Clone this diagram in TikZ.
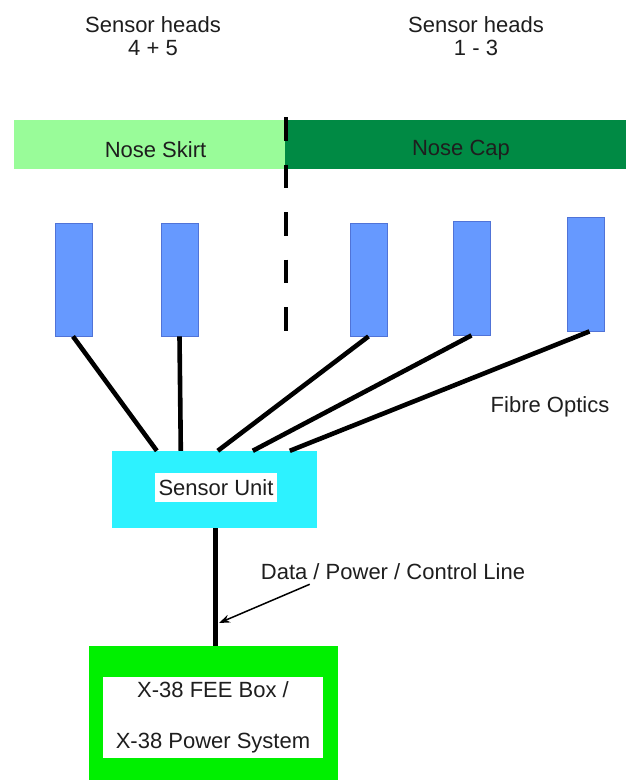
\documentclass[tikz,border=0pt]{standalone}
\usepackage{fontspec}
\setmainfont{Liberation Sans}
\usetikzlibrary{arrows.meta,calc}
\definecolor{skirtgreen}{RGB}{153,252,153}
\definecolor{capgreen}{RGB}{0,138,68}
\definecolor{sensorblue}{RGB}{102,153,255}
\definecolor{sensoredge}{RGB}{80,115,215}
\definecolor{unitcyan}{RGB}{45,242,255}
\definecolor{feegreen}{RGB}{0,240,0}
\definecolor{txt}{RGB}{30,30,30}
\begin{document}
\begin{tikzpicture}[x=1pt,y=-1pt,
  lbl/.style={font=\fontsize{22}{23}\selectfont, text=txt, inner sep=0pt, align=center},
  barbox/.style={draw=none, minimum height=49pt, inner sep=0pt},
  sensorbox/.style={fill=sensorblue, draw=sensoredge, line width=0.8pt, minimum width=37pt, minimum height=113pt, inner sep=0pt},
  fibre/.style={line width=4.6pt, black},
  whitebox/.style={fill=white, draw=none, inner sep=0pt, font=\fontsize{22}{23}\selectfont, text=txt, align=center}
]
\useasboundingbox (0,0) rectangle (626,780);
\fill[white] (0,0) rectangle (626,780);

% top labels
\node[lbl] (h45) at (153,36.5) {Sensor heads\\4 + 5};
\node[lbl] (h13) at (476,36.5) {Sensor heads\\1 - 3};

% bars
\node[barbox, fill=skirtgreen, minimum width=271pt,
  label={[lbl,xshift=6pt,yshift=-5.5pt]center:Nose Skirt}] (skirt) at (149.5,144.5) {};
\node[barbox, fill=capgreen, minimum width=342pt,
  label={[lbl,xshift=5pt,yshift=-5.5pt]center:Nose Cap}] (cap) at (456,144.5) {};

% dashed divider
\coordinate (dtop) at (286,117);
\coordinate (dbot) at (286,331);
\draw[line width=4.6pt, black, dash pattern=on 23.5pt off 24pt] (dtop) -- (dbot);

% sensor unit
\node[fill=unitcyan, draw=none, minimum width=205pt, minimum height=77pt, inner sep=0pt] (su) at (214.5,489.5) {};
\node[whitebox, minimum width=122pt, minimum height=29pt] (sulbl) at (216,487.5) {Sensor Unit};

% fibre end points on the sensor unit
\coordinate (u1) at ($(su.north west)+(45,0)$);
\coordinate (u2) at ($(su.north west)+(69,0)$);
\coordinate (u3) at ($(su.north west)+(106,0)$);
\coordinate (u4) at ($(su.north west)+(141,0)$);
\coordinate (u5) at ($(su.north west)+(178,0)$);

% sensors
\node[sensorbox] (s1) at (74,279.5) {};
\node[sensorbox] (s2) at (179.5,279.5) {};
\node[sensorbox] (s3) at (368.5,279.5) {};
\node[sensorbox, minimum height=114pt] (s4) at (471.5,278) {};
\node[sensorbox, minimum height=114pt] (s5) at (585.5,274) {};

% fibres
\draw[fibre] ([xshift=-1pt]s1.south) -- (u1);
\draw[fibre] (s2.south) -- (u2);
\draw[fibre] (s3.south) -- (u3);
\draw[fibre] (s4.south) -- (u4);
\draw[fibre] ([xshift=4pt]s5.south) -- (u5);

\node[lbl] (fo) at (550,407) {Fibre Optics};

% FEE box
\node[fill=feegreen, draw=none, minimum width=249pt, minimum height=136pt, inner sep=0pt] (fee) at (213.5,714) {};
\node[whitebox, minimum width=220pt, minimum height=81pt, font=\fontsize{22}{51}\selectfont] (feelbl) at (213,717.5) {X-38 FEE Box /\\X-38 Power System};

% data line
\draw[line width=4.6pt, black] ([xshift=1pt]su.south) -- ([xshift=1pt]su.south |- fee.north);

\node[lbl] (dpc) at (393,572) {Data / Power / Control Line};
\coordinate (hit) at (219,623);
\draw[line width=1.5pt, black, -{Stealth[length=11pt,width=8pt]}] ([xshift=49pt,yshift=-4pt]dpc.south west) -- (hit);
\end{tikzpicture}
\end{document}
